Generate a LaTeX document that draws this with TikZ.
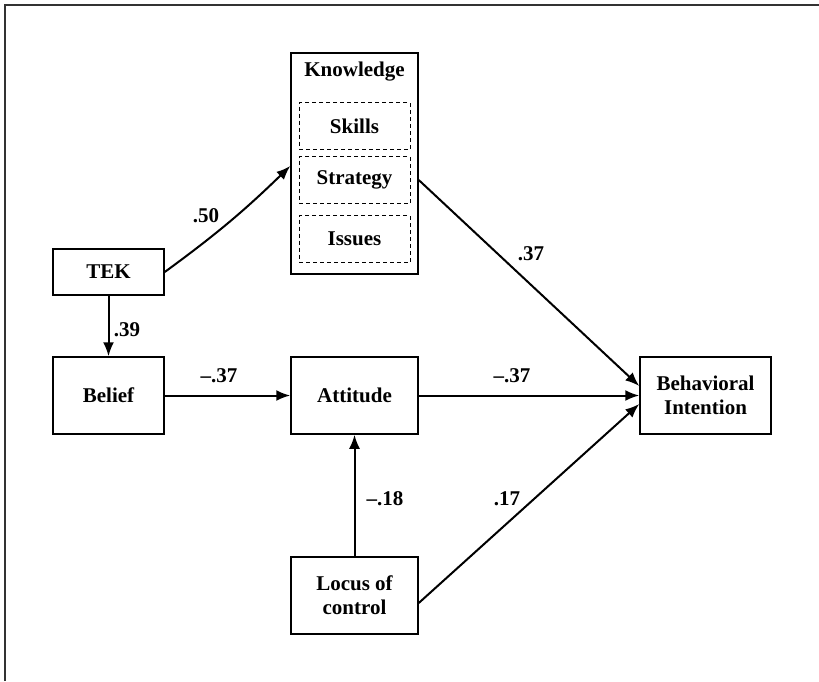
\documentclass[tikz,border=0pt]{standalone}
\usepackage{fontspec}
\setmainfont{Liberation Serif}
\usetikzlibrary{arrows.meta}

\begin{document}
\begin{tikzpicture}[x=1pt, y=-1pt,
    every node/.style={font=\fontsize{21}{24}\selectfont\bfseries, align=center, inner sep=0pt},
    box/.style={draw, line width=1.5pt, minimum width=111pt, minimum height=77pt},
    wide/.style={box, minimum width=127pt},
    sub/.style={draw, dashed, dash pattern=on 4pt off 3pt, line width=1pt, minimum width=111pt, minimum height=47pt},
    link/.style={draw, line width=2pt, -{Latex[length=14pt, width=11pt]}},
    coef/.style={font=\fontsize{21}{24}\selectfont\bfseries}]
      \useasboundingbox (0,0) rectangle (819,681);
      \draw[line width=1.5pt, black!80] (5,681) -- (5,5) -- (819,5);

      % knowledge block
      \node[box, minimum width=127pt, minimum height=221pt] (know) at (354.5,163.5) {};
      \node (klabel) at (354.5,72) {Knowledge};
      \node[sub] (skills) at (354.5,126) {Skills};
      \node[sub] (strat) at (354.5,180) {Strategy};
      \node[sub] (issues) at (354.5,239) {Issues};

      \node[box, minimum height=46pt] (tek) at (108.5,272) {TEK};
      \node[box] (belief) at (108.5,395.5) {Belief};
      \node[wide] (att) at (354.5,395.5) {Attitude};
      \node[box, minimum width=131pt] (bi) at (705.5,395.5) {Behavioral\\Intention};
      \node[wide] (loc) at (354.5,595.5) {Locus of\\control};

      \draw[link] (tek.east) to[bend right=4] (know.west |- 0,166);
      \draw[link] (tek) -- (belief);
      \draw[link] (belief) -- (att);
      \draw[link] (att) -- (bi);
      \draw[link] (loc) -- (att);
      \draw[link] (know.east |- strat) -- ([yshift=9.5pt]bi.west);
      \draw[link] ([yshift=-7.5pt]loc.east) -- ([yshift=-8.5pt]bi.west);

      \node[coef] (c1) at (206,216) {.50};
      \node[coef] (c2) at (127,330) {.39};
      \node[coef] (c3) at (219,376) {--.37};
      \node[coef] (c4) at (512,376) {--.37};
      \node[coef] (c5) at (531,254) {.37};
      \node[coef] (c6) at (385,499) {--.18};
      \node[coef] (c7) at (507,499) {.17};
\end{tikzpicture}
\end{document}
